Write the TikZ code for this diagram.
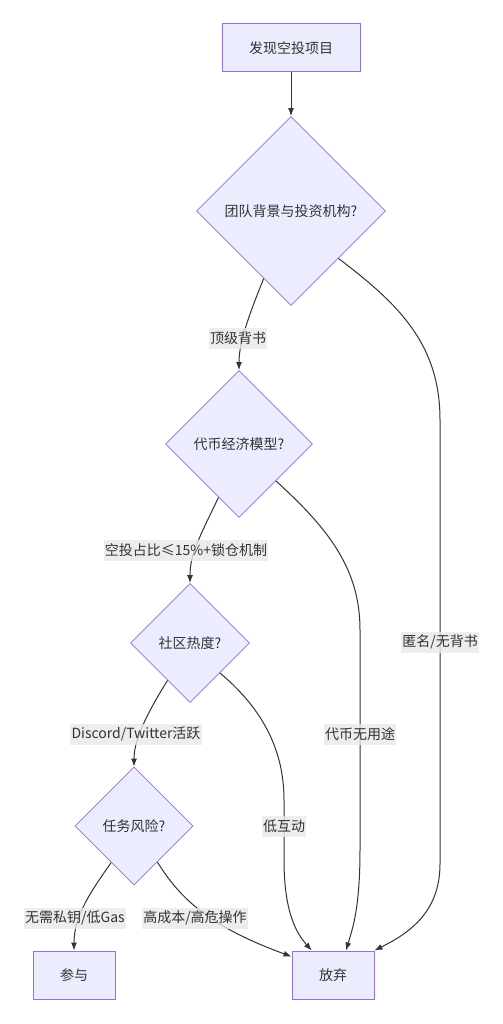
\documentclass[tikz,border=0pt]{standalone}
\usepackage{fontspec}
\setmainfont{Noto Sans CJK SC}
\usetikzlibrary{shapes.geometric,arrows.meta}
\definecolor{nodefill}{HTML}{ECECFF}
\definecolor{nodeline}{HTML}{9370DB}
\definecolor{edgeline}{HTML}{333333}
\definecolor{labelbg}{HTML}{E8E8E8}
\begin{document}
\begin{tikzpicture}[
        x=0.75pt, y=-0.75pt,
        every path/.style={>={Latex[length=6pt,width=4.5pt]}},
        every node/.style={text=edgeline},
        font=\fontsize{10.5pt}{12pt}\selectfont,
        box/.style={draw=nodeline, fill=nodefill, rectangle, minimum height=36pt, line width=0.75pt},
        check/.style={draw=nodeline, fill=nodefill, diamond, aspect=1, inner sep=0pt, line width=0.6pt},
        link/.style={draw=edgeline, line width=0.75pt, ->},
        tag/.style={fill=labelbg, fill opacity=0.8, text opacity=1, inner xsep=1pt, inner ysep=0pt, minimum height=15.75pt}
        ]
        \useasboundingbox (0,0) rectangle (503,1024);

        % nodes
        \node[box, minimum width=103.5pt] (st) at (291,48) {发现空投项目};
        \node[check, minimum size=141.75pt] (d1) at (291,211) {团队背景与投资机构?};
        \node[check, minimum size=110.25pt] (d2) at (239,444) {代币经济模型?};
        \node[check, minimum size=89.25pt] (d3) at (190,643) {社区热度?};
        \node[check, minimum size=88.5pt] (d4) at (134,826) {任务风险?};

        \node[box, minimum width=61.5pt] (cy) at (74,975) {参与};
        \node[box, minimum width=61.5pt] (fq) at (333,975) {放弃};

        % edges
        \draw[link] (st) -- (d1);
        \draw[link] (d1.248) .. controls (246,322) and (239,345) .. (d2.north);
        \draw[link] (d2.249) .. controls (198,540) and (190,555) .. (d3.north);
        \draw[link] (d3.239) .. controls (146,715) and (134,740) .. (d4.north);
        \draw[link] (d4.238) .. controls (92,890) and (74,915) .. (cy.north);

        \draw[link] (d4.303) .. controls (178,895) and (205,925) .. (fq.156);
        \draw[link] (d3.south east) .. controls (258,705) and (284,745) .. (284,800)
            -- (284,860) .. controls (284,915) and (298,935) .. (fq.131);
        \draw[link] (d2.south east) .. controls (330,530) and (360,570) .. (360,630)
            -- (360,850) .. controls (360,910) and (352,930) .. (fq.62);
        \draw[link] (d1.south east) .. controls (400,305) and (440,345) .. (440,420)
            -- (440,864) .. controls (440,915) and (405,935) .. (fq.north east);

        % labels
        \node[tag] (l1) at (238,338) {顶级背书};
        \node[tag] (l2) at (186,550) {空投占比≤15\%+锁仓机制};
        \node[tag] (l3) at (136,734) {Discord/Twitter活跃};
        \node[tag] (l4) at (75,918) {无需私钥/低Gas};
        \node[tag] (l5) at (195,918) {高成本/高危操作};
        \node[tag] (l6) at (284,826) {低互动};
        \node[tag] (l7) at (360,734) {代币无用途};
        \node[tag] (l8) at (440,642) {匿名/无背书};

    \end{tikzpicture}
\end{document}
